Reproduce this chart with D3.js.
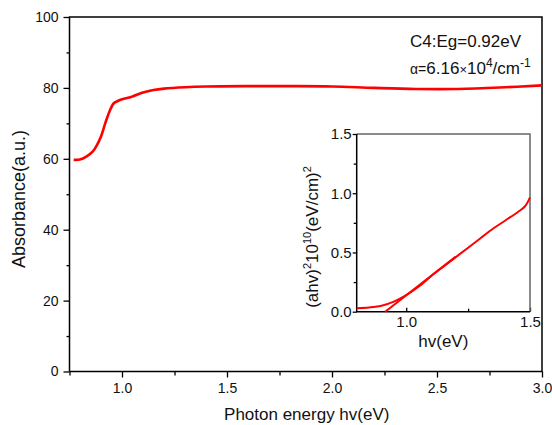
<!DOCTYPE html>
<html>
<head>
<meta charset="utf-8">
<script src="https://cdn.jsdelivr.net/npm/d3@7"></script>
<style>
  body { margin: 0; background: #fff; }
  svg { font-family: "Liberation Sans", Arial, sans-serif; }
</style>
</head>
<body>
<div class="chart"></div>
<script>
// Main spectrum: photon energy (eV) vs absorbance (a.u.)
var energy = [0.77, 0.80, 0.83, 0.86, 0.88, 0.90, 0.92, 0.94, 0.96, 0.98, 1.00, 1.05, 1.10, 1.15, 1.20, 1.30, 1.40, 1.60, 1.80, 2.00, 2.20, 2.40, 2.60, 2.80, 3.00];
var absorbance = [59.7, 59.8, 60.6, 62.0, 63.8, 66.3, 70.0, 73.3, 75.6, 76.3, 76.8, 77.6, 78.7, 79.4, 79.8, 80.2, 80.4, 80.5, 80.5, 80.4, 80.0, 79.7, 79.7, 80.1, 80.7];

// Inset: Tauc plot (ahv)^2 vs hv
var insetHv = [0.80, 0.85, 0.90, 0.95, 1.00, 1.05, 1.10, 1.15, 1.20, 1.25, 1.30, 1.35, 1.40, 1.45, 1.48, 1.50];
var insetTauc = [0.03, 0.036, 0.05, 0.085, 0.14, 0.21, 0.30, 0.38, 0.46, 0.54, 0.62, 0.70, 0.77, 0.84, 0.89, 0.965];
// linear fit, crossing zero at the gap
var fitHv = [0.915, 1.20];
var fitTauc = [0, 0.465];

var mainXTicks = [1.0, 1.5, 2.0, 2.5, 3.0];
var mainYTicks = [0, 20, 40, 60, 80, 100];
var insetXTicks = [1.0, 1.5];
var insetYTicks = [0.0, 0.5, 1.0, 1.5];

var svg_width = 552;
var svg_height = 425;

var svg = d3.select(".chart").append("svg")
  .attr("width", svg_width)
  .attr("height", svg_height);

// main plot area
var pLeft = 69.5, pRight = 542, pTop = 17, pBottom = 371.5;

var x = d3.scaleLinear().domain([0.75, 3.0]).range([pLeft, pRight]);
var y = d3.scaleLinear().domain([0, 100]).range([pBottom, pTop]);

function styleAxis(g, size) {
  g.select(".domain").remove();
  g.selectAll("line").attr("stroke", "#000").attr("stroke-width", 1.3);
  g.selectAll("text").attr("font-size", size).attr("fill", "#111");
}

// minor ticks first
svg.append("g")
  .attr("transform", "translate(0," + pBottom + ")")
  .call(d3.axisBottom(x).tickValues([0.75, 1.25, 1.75, 2.25, 2.75]).tickSize(4).tickFormat(""))
  .call(styleAxis, "14px");
svg.append("g")
  .attr("transform", "translate(" + pLeft + ",0)")
  .call(d3.axisLeft(y).tickValues([10, 30, 50, 70, 90]).tickSize(3).tickFormat(""))
  .call(styleAxis, "14px");

svg.append("g")
  .attr("transform", "translate(0," + pBottom + ")")
  .call(d3.axisBottom(x).tickValues(mainXTicks).tickSize(6).tickPadding(6).tickFormat(d3.format(".1f")))
  .call(styleAxis, "14px");
svg.append("g")
  .attr("transform", "translate(" + pLeft + ",0)")
  .call(d3.axisLeft(y).tickValues(mainYTicks).tickSize(6).tickPadding(5).tickFormat(d3.format("d")))
  .call(styleAxis, "14px");

// frame
svg.append("path")
  .attr("d", "M" + pLeft + "," + pBottom + "V" + pTop + "H" + pRight + "V" + pBottom + "H" + pLeft)
  .attr("fill", "none")
  .attr("stroke", "#000")
  .attr("stroke-width", 1.5);

// main curve
var line = d3.line()
  .x(function(d, i) { return x(energy[i]); })
  .y(function(d) { return y(d); })
  .curve(d3.curveCatmullRom);

svg.append("path")
  .datum(absorbance)
  .attr("d", line)
  .attr("fill", "none")
  .attr("stroke", "#ff0000")
  .attr("stroke-width", 2.6);

// axis titles
svg.append("text")
  .text("Photon energy hv(eV)")
  .attr("x", (pLeft + pRight) / 2 + 1)
  .attr("y", 420)
  .attr("text-anchor", "middle")
  .attr("font-size", "17px")
  .attr("fill", "#111");

svg.append("text")
  .text("Absorbance(a.u.)")
  .attr("transform", "translate(25," + 199 + ") rotate(-90)")
  .attr("text-anchor", "middle")
  .attr("font-size", "18px")
  .attr("fill", "#111");

// annotation
svg.append("text")
  .text("C4:Eg=0.92eV")
  .attr("x", 410)
  .attr("y", 47)
  .attr("font-size", "17px")
  .attr("fill", "#111");

var ann = svg.append("text")
  .attr("x", 410)
  .attr("y", 74)
  .attr("font-size", "17px")
  .attr("fill", "#111");
ann.append("tspan").text("\u03b1=").attr("font-size", "14px");
ann.append("tspan").text("6.16");
ann.append("tspan").text("\u00d7").attr("font-size", "13px");
ann.append("tspan").text("10");
ann.append("tspan").text("4").attr("font-size", "12px").attr("dy", "-7");
ann.append("tspan").text("/cm").attr("dy", "7");
ann.append("tspan").text("-1").attr("font-size", "12px").attr("dy", "-7");

// inset
var iLeft = 356.7, iRight = 530, iTop = 134, iBottom = 311.7;
var ix = d3.scaleLinear().domain([0.8, 1.5]).range([iLeft, iRight]);
var iy = d3.scaleLinear().domain([0, 1.5]).range([iBottom, iTop]);

var inset = svg.append("g");

inset.append("rect")
  .attr("x", iLeft).attr("y", iTop)
  .attr("width", iRight - iLeft).attr("height", iBottom - iTop)
  .attr("fill", "#fff");

inset.append("g")
  .attr("transform", "translate(" + iLeft + ",0)")
  .call(d3.axisLeft(iy).tickValues([0.25, 0.75, 1.25]).tickSize(3).tickFormat(""))
  .call(styleAxis, "15px");
inset.append("g")
  .attr("transform", "translate(" + iLeft + ",0)")
  .call(d3.axisLeft(iy).tickValues(insetYTicks).tickSize(4).tickPadding(1).tickFormat(d3.format(".1f")))
  .call(styleAxis, "15px");
inset.append("g")
  .attr("transform", "translate(0," + iBottom + ")")
  .call(d3.axisBottom(ix).tickValues([1.25]).tickSize(-3).tickFormat(""))
  .call(styleAxis, "15px");
inset.append("g")
  .attr("transform", "translate(0," + iBottom + ")")
  .call(d3.axisBottom(ix).tickValues(insetXTicks).tickSize(-4).tickPadding(5).tickFormat(d3.format(".1f")))
  .call(styleAxis, "15px");

inset.append("path")
  .attr("d", "M" + iLeft + "," + iTop + "H" + iRight + "V" + iBottom)
  .attr("fill", "none")
  .attr("stroke", "#666")
  .attr("stroke-width", 1.5);
inset.append("path")
  .attr("d", "M" + iLeft + "," + iTop + "V" + iBottom + "H" + iRight)
  .attr("fill", "none")
  .attr("stroke", "#000")
  .attr("stroke-width", 1.5);

var iline = d3.line()
  .x(function(d, i) { return ix(insetHv[i]); })
  .y(function(d) { return iy(d); })
  .curve(d3.curveCatmullRom);

inset.append("path")
  .datum(insetTauc)
  .attr("d", iline)
  .attr("fill", "none")
  .attr("stroke", "#ff0000")
  .attr("stroke-width", 2);

var fline = d3.line()
  .x(function(d, i) { return ix(fitHv[i]); })
  .y(function(d) { return iy(d); });

inset.append("path")
  .datum(fitTauc)
  .attr("d", fline)
  .attr("fill", "none")
  .attr("stroke", "#ff0000")
  .attr("stroke-width", 2);

inset.append("text")
  .text("hv(eV)")
  .attr("x", (iLeft + iRight) / 2)
  .attr("y", 347)
  .attr("text-anchor", "middle")
  .attr("font-size", "17px")
  .attr("fill", "#111");

var ylab = inset.append("text")
  .attr("transform", "translate(318,237) rotate(-90)")
  .attr("text-anchor", "middle")
  .attr("font-size", "17px")
  .attr("fill", "#111");
ylab.append("tspan").text("(ahv)");
ylab.append("tspan").text("2").attr("font-size", "11px").attr("dy", "-7");
ylab.append("tspan").text("10").attr("dy", "7");
ylab.append("tspan").text("10").attr("font-size", "11px").attr("dy", "-7");
ylab.append("tspan").text("(eV/cm)").attr("dy", "7");
ylab.append("tspan").text("2").attr("font-size", "11px").attr("dy", "-7");
</script>
</body>
</html>
